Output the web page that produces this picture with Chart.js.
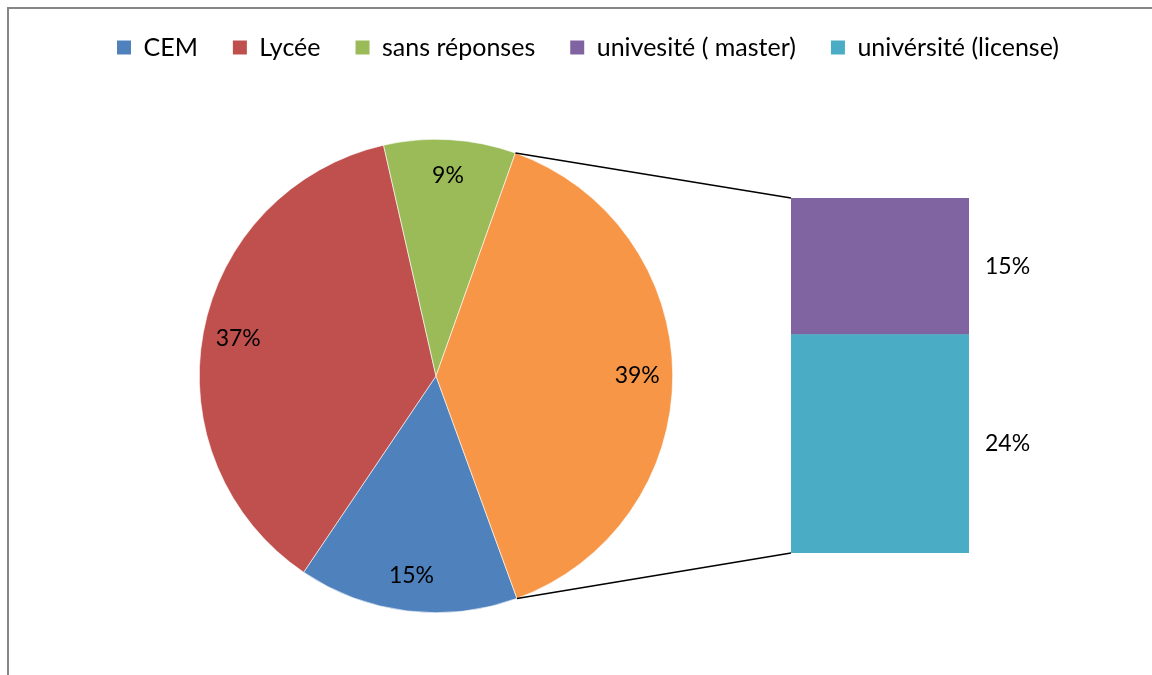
<!DOCTYPE html>
<html><head><meta charset="utf-8">
<script src="https://cdn.jsdelivr.net/npm/chart.js@4/dist/chart.umd.min.js"></script>
<style>
html,body{margin:0;padding:0;background:#fff;overflow:hidden}
#wrap{position:relative;width:1152px;height:675px;overflow:hidden;background:#fff}
#frame{position:absolute;left:7px;top:7px;width:1200px;height:700px;border-left:2px solid #868686;border-top:2px solid #868686}
canvas{position:absolute;left:0;top:0}
</style></head><body>
<div id="wrap"><div id="frame"></div>
<canvas id="pie" width="1152" height="675"></canvas>
<canvas id="bar" width="1152" height="675"></canvas></div>
<script>
const categories = ['CEM', 'Lycée', 'sans réponses', 'univesité ( master)', 'univérsité (license)'];
const values = [15, 37, 9, 15, 24];
const colors = ['#4F81BD', '#C0504D', '#9BBB59', '#8064A2', '#4BACC6'];
const otherColor = '#F79646';

const pieCategories = categories.slice(0, 3).concat(['université']);
const pieValues = values.slice(0, 3).concat([values[3] + values[4]]);
const pieColors = colors.slice(0, 3).concat([otherColor]);

const barCategories = [categories[4], categories[3]]; // bottom to top
const barValues = [values[4], values[3]];
const barColors = [colors[4], colors[3]];

const FONT = 'Lato, "Open Sans", sans-serif';
Chart.defaults.font.family = FONT;
Chart.defaults.color = '#000';

const pieLabels = {
  id: 'pieLabels',
  afterDatasetsDraw(chart) {
    const ctx = chart.ctx;
    const meta = chart.getDatasetMeta(0);
    ctx.save();
    ctx.font = '23px ' + FONT;
    ctx.fillStyle = '#000';
    ctx.textAlign = 'center';
    ctx.textBaseline = 'middle';
    meta.data.forEach((arc, i) => {
      const p = arc.getProps(['x', 'y', 'startAngle', 'endAngle', 'outerRadius']);
      const a = (p.startAngle + p.endAngle) / 2;
      const r = p.outerRadius * 0.85;
      ctx.fillText(pieValues[i] + '%', p.x + Math.cos(a) * r, p.y + Math.sin(a) * r);
    });
    ctx.restore();
  }
};

const pieChart = new Chart(document.getElementById('pie'), {
  type: 'pie',
  data: {
    labels: pieCategories,
    datasets: [{ data: pieValues, backgroundColor: pieColors, borderColor: '#ffffff', borderWidth: 0.6 }]
  },
  options: {
    responsive: false,
    animation: false,
    rotation: 160,
    layout: { padding: { left: 199, right: 479, top: 139, bottom: 62 } },
    plugins: { legend: { display: false }, tooltip: { enabled: false } }
  },
  plugins: [pieLabels]
});

const legendFit = {
  id: 'legendFit',
  beforeInit(chart) {
    const fit = chart.legend.fit;
    chart.legend.fit = function () { fit.call(this); this.height = 198; };
  }
};

const connectors = {
  id: 'connectors',
  afterDatasetsDraw(chart) {
    const ctx = chart.ctx;
    const arc = pieChart.getDatasetMeta(0).data[3].getProps(['x', 'y', 'startAngle', 'endAngle', 'outerRadius']);
    const bot = chart.getDatasetMeta(0).data[0].getProps(['x', 'y', 'base', 'width']);
    const top = chart.getDatasetMeta(1).data[0].getProps(['x', 'y', 'base', 'width']);
    ctx.save();
    ctx.strokeStyle = '#000';
    ctx.lineWidth = 1.5;
    ctx.beginPath();
    ctx.moveTo(arc.x + Math.cos(arc.startAngle) * arc.outerRadius, arc.y + Math.sin(arc.startAngle) * arc.outerRadius);
    ctx.lineTo(top.x - top.width / 2, top.y);
    ctx.moveTo(arc.x + Math.cos(arc.endAngle) * arc.outerRadius, arc.y + Math.sin(arc.endAngle) * arc.outerRadius);
    ctx.lineTo(bot.x - bot.width / 2, bot.base);
    ctx.stroke();
    // bar labels
    ctx.font = '23px ' + FONT;
    ctx.fillStyle = '#000';
    ctx.textAlign = 'left';
    ctx.textBaseline = 'middle';
    [bot, top].forEach((el, i) => {
      ctx.fillText(barValues[i] + '%', el.x + el.width / 2 + 16, (el.y + el.base) / 2);
    });
    ctx.restore();
  }
};

const hidden = { display: true, grid: { display: false }, border: { display: false }, ticks: { display: false } };

new Chart(document.getElementById('bar'), {
  type: 'bar',
  data: {
    labels: [''],
    datasets: barCategories.map((c, i) => ({
      label: c, data: [barValues[i]], backgroundColor: barColors[i], borderWidth: 0,
      barPercentage: 1, categoryPercentage: 1
    }))
  },
  options: {
    responsive: false,
    animation: false,
    layout: { padding: { left: 24, right: 0, top: 0, bottom: 0 } },
    scales: {
      x: Object.assign({}, hidden, { stacked: true, afterFit: s => { s.height = 122; } }),
      y: Object.assign({}, hidden, { stacked: true, min: 0, max: pieValues[3], afterFit: s => { s.width = 767; } }),
      y2: Object.assign({}, hidden, { position: 'right', afterFit: s => { s.width = 183; } })
    },
    plugins: {
      tooltip: { enabled: false },
      legend: {
        position: 'top',
        onClick: null,
        labels: {
          font: { size: 25, family: FONT },
          color: '#000',
          boxWidth: 14,
          boxHeight: 14,
          padding: 35,
          generateLabels: () => categories.map((c, i) => ({
            text: c, fillStyle: colors[i], strokeStyle: colors[i], lineWidth: 0, hidden: false, datasetIndex: 0
          }))
        }
      }
    }
  },
  plugins: [legendFit, connectors]
});
</script>
</body></html>
